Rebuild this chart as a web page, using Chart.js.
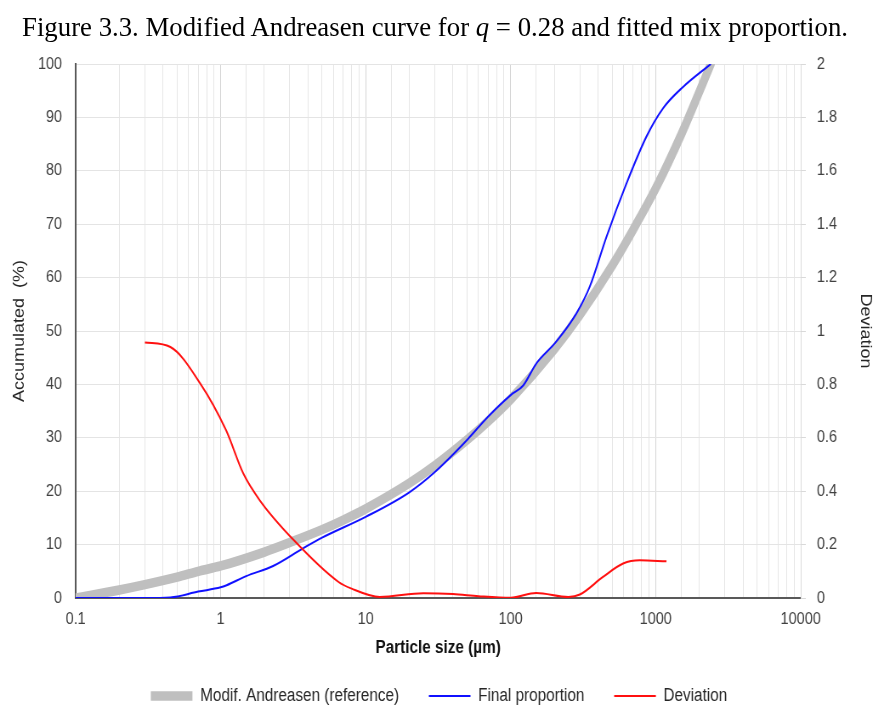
<!DOCTYPE html>
<html>
<head>
<meta charset="utf-8">
<script src="https://cdn.jsdelivr.net/npm/chart.js@4/dist/chart.umd.min.js"></script>
<style>
  html, body { margin: 0; padding: 0; background: #ffffff; }
  #wrap { position: relative; width: 878px; height: 706px; overflow: hidden; }
  #caption {
    position: absolute; left: 22px; top: 14px; white-space: nowrap;
    font-family: 'Liberation Serif', 'Times New Roman', serif; font-size: 27px; line-height: 27px;
    color: #000; transform-origin: 0 0;
  }
  /* the plot is drawn on a wider canvas and squeezed horizontally */
  #chart { position: absolute; left: 0; top: 0; transform-origin: 0 0; transform: scaleX(0.85); }
</style>
</head>
<body>
<div id="wrap">
  <canvas id="chart" width="1033" height="715"></canvas>
  <div id="caption">Figure 3.3. Modified Andreasen curve for <i>q</i> = 0.28 and fitted mix proportion.</div>
</div>
<script>
// Particle sizes (µm) and cumulative passing (%) of the modified Andreasen reference
const refSize    = [0.1, 0.2, 0.3, 0.5, 0.7, 1, 2, 3, 5, 7, 10, 20, 30, 50, 70, 100, 200, 300, 500, 700, 1000, 1500, 2000, 2400];
const refPassing = [0, 1.5, 2.5, 3.9, 5.0, 6.0, 8.6, 10.4, 12.8, 14.6, 16.7, 21.5, 24.8, 29.6, 33.1, 37.2, 46.6, 53.0, 62.2, 69.0, 76.7, 86.8, 94.8, 100];

// Fitted mix: cumulative passing (%)
const mixSize    = [0.1, 0.2, 0.3, 0.45, 0.7, 1, 1.1, 1.5, 2.3, 3.7, 5, 10, 20, 30, 50, 70, 100, 122, 150, 206, 284, 351, 457, 628, 863, 1123, 1543, 2400];
const mixPassing = [0, 0, 0, 0.1, 1.2, 2.0, 2.4, 4.1, 6.0, 9.3, 11.3, 15.2, 19.8, 23.6, 29.6, 34.0, 38.0, 39.8, 43.9, 48.0, 53.3, 58.3, 67.6, 77.6, 86.4, 91.7, 95.7, 100];

// Deviation between mix and reference (right axis)
const devSize  = [0.3, 0.45, 0.72, 1.09, 1.43, 1.86, 3.2, 6.5, 8, 12.5, 25, 40, 60, 100, 150, 250, 300, 433, 596, 776, 1186];
const devValue = [0.957, 0.94, 0.805, 0.628, 0.467, 0.366, 0.216, 0.06, 0.035, 0.004, 0.018, 0.015, 0.007, 0.001, 0.019, 0.004, 0.013, 0.079, 0.129, 0.141, 0.1375];

// Axis tick labels along the particle-size axis
const sizeTickLabels = ['0.1', '1', '10', '100', '1000', '10000'];

const pairs = (xs, ys) => xs.map((x, i) => ({ x: x, y: ys[i] }));
const isDecade = (v) => { const lg = Math.log10(v); return Math.abs(lg - Math.round(lg)) < 1e-6; };

const sans = "'Liberation Sans', Arial, sans-serif";

// stretch caption to its printed width
(function () {
  const cap = document.getElementById('caption');
  const w = cap.getBoundingClientRect().width;
  cap.style.transform = 'scaleX(' + (826 / w) + ')';
})();

new Chart(document.getElementById('chart'), {
  type: 'line',
  data: {
    datasets: [
      {
        label: 'Modif. Andreasen (reference)',
        data: pairs(refSize, refPassing),
        borderColor: '#bfbfbf', backgroundColor: '#bfbfbf',
        borderWidth: 9.5, borderCapStyle: 'round',
        pointRadius: 0, cubicInterpolationMode: 'monotone',
        yAxisID: 'y', order: 3, clip: 0
      },
      {
        label: 'Final proportion',
        data: pairs(mixSize, mixPassing),
        borderColor: '#1010ff', backgroundColor: '#1010ff',
        borderWidth: 2,
        pointRadius: 0, cubicInterpolationMode: 'monotone',
        yAxisID: 'y', order: 2
      },
      {
        label: 'Deviation',
        data: pairs(devSize, devValue),
        borderColor: '#ff1010', backgroundColor: '#ff1010',
        borderWidth: 2,
        pointRadius: 0, cubicInterpolationMode: 'monotone',
        yAxisID: 'y1', order: 1
      }
    ]
  },
  options: {
    responsive: false,
    animation: false,
    devicePixelRatio: 1,
    layout: { padding: { top: 64, left: 0, right: 0, bottom: 0 } },
    plugins: {
      tooltip: { enabled: false },
      title: { display: false },
      legend: {
        position: 'bottom',
        labels: {
          usePointStyle: true,
          pointStyle: 'line',
          pointStyleWidth: 49,
          padding: 35,
          color: '#262626',
          font: { family: sans, size: 18 },
          sort: (a, b) => a.datasetIndex - b.datasetIndex
        }
      }
    },
    scales: {
      x: {
        type: 'logarithmic',
        min: 0.1, max: 10000,
        border: { color: '#595959', width: 2 },
        grid: {
          drawTicks: false,
          color: (c) => (c.tick && isDecade(c.tick.value)) ? '#d4d4d4' : '#e6e6e6',
          lineWidth: 1
        },
        ticks: {
          autoSkip: false, maxRotation: 0, padding: 11,
          color: '#404040',
          font: { family: sans, size: 17 },
          callback: (v) => isDecade(v) ? sizeTickLabels[Math.round(Math.log10(v)) + 1] : ''
        },
        title: {
          display: true, text: 'Particle size (\u00b5m)',
          color: '#111', font: { family: sans, size: 18, weight: 'bold' },
          padding: { top: 0, bottom: -7 }
        },
        afterFit: (s) => { s.height = 54; }
      },
      y: {
        position: 'left',
        min: 0, max: 100,
        border: { color: '#595959', width: 2 },
        grid: { drawTicks: false, color: '#e4e4e4', lineWidth: 1 },
        ticks: {
          stepSize: 10, padding: 16,
          color: '#404040', font: { family: sans, size: 17 }
        },
        title: {
          display: true, text: 'Accumulated  (%)',
          color: '#262626', font: { family: sans, size: 18 },
          padding: { top: 12, bottom: 0 }
        },
        afterFit: (s) => { s.width = 89; }
      },
      y1: {
        position: 'right',
        min: 0, max: 2,
        border: { color: '#d9d9d9', width: 1 },
        grid: { drawOnChartArea: false, drawTicks: true, tickLength: 6, color: '#d9d9d9' },
        ticks: {
          stepSize: 0.2, padding: 13,
          color: '#404040', font: { family: sans, size: 17 },
          callback: (v) => String(Number(v.toFixed(1)))
        },
        title: {
          display: true, text: 'Deviation',
          color: '#262626', font: { family: sans, size: 18 },
          padding: { top: 4, bottom: 4 }
        },
        afterFit: (s) => { s.width = 91; }
      }
    }
  }
});
</script>
</body>
</html>
